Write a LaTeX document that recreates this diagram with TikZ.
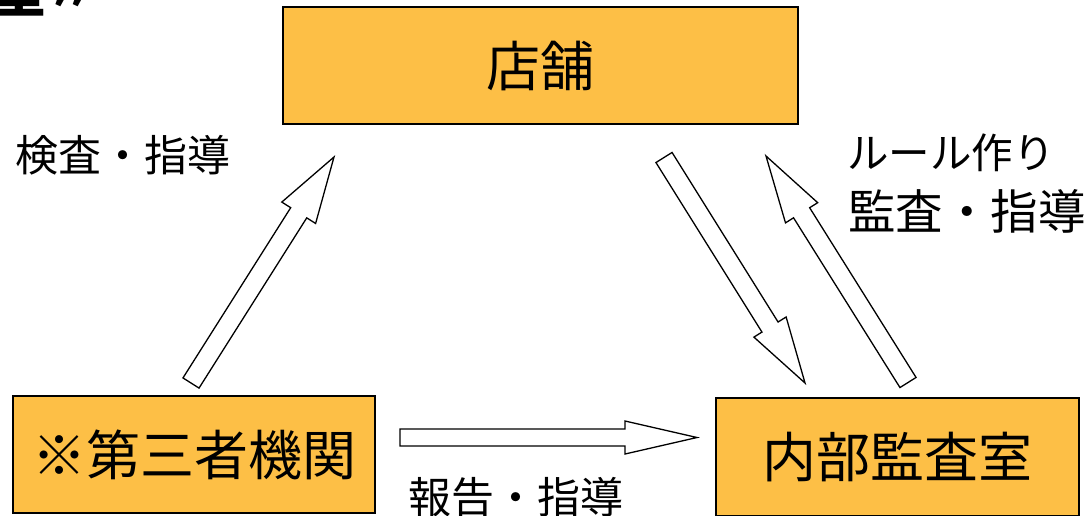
\documentclass[tikz,border=0pt]{standalone}
\usepackage{fontspec}
\setmainfont{Noto Sans CJK JP}
\usetikzlibrary{calc}
\definecolor{boxfill}{RGB}{253,191,70}
\tikzset{
  box/.style={draw=black, line width=1.6pt, fill=boxfill, inner sep=0pt, font=\fontsize{54}{54}\selectfont},
  lbl/.style={inner sep=0pt, font=\fontsize{43}{43}\selectfont},
  blockarrow/.style={draw=black, line width=1.3pt, fill=white, line join=miter}
}
\newcommand{\blockarr}[5]{% start, end, half shaft, half head, head length
  \draw[blockarrow]
    ($(#1)!#3!90:(#2)$) --
    ($($(#2)!#5!(#1)$)!#3!90:(#2)$) --
    ($($(#2)!#5!(#1)$)!#4!90:(#2)$) --
    (#2) --
    ($($(#2)!#5!(#1)$)!#4!-90:(#2)$) --
    ($($(#2)!#5!(#1)$)!#3!-90:(#2)$) --
    ($(#1)!#3!-90:(#2)$) -- cycle;}
\begin{document}
\begin{tikzpicture}[x=1pt,y=-1pt]
\useasboundingbox (0,0) rectangle (1091,515);
\begin{scope}
\clip (0,0) rectangle (1091,515);
\node[anchor=base west, inner sep=0pt, font=\fontsize{54}{54}\selectfont\bfseries] (title) at (-8,12) {室〃};
\node[box, minimum width=515pt, minimum height=117pt] (shop) at (540.5,65.5) {店舗};
\node[box, minimum width=362pt, minimum height=117pt] (third) at (194,454.5) {※第三者機関};
\node[box, minimum width=363pt, minimum height=118pt] (audit) at (897.5,457) {内部監査室};
\end{scope}

\node[lbl] (l1) at (123,155) {検査・指導};
\node[lbl, font=\fontsize{41.5}{41.5}\selectfont] (l2) at (951,153) {ルール作り};
\node[lbl, font=\fontsize{47.5}{47.5}\selectfont] (l3) at (967,211) {監査・指導};
\node[lbl] (l4) at (516,497) {報告・指導};

\coordinate (a1s) at (191,383);
\coordinate (a1e) at (334,157);
\coordinate (a2s) at (664,157.5);
\coordinate (a2e) at (805,383);
\coordinate (a3s) at (908,382.5);
\coordinate (a3e) at (766,156);
\coordinate (a4s) at (400,437.5);
\coordinate (a4e) at (697,437.5);

\blockarr{a1s}{a1e}{9.5pt}{20pt}{66pt}
\blockarr{a2s}{a2e}{9.5pt}{19pt}{66pt}
\blockarr{a3s}{a3e}{9.5pt}{19pt}{67pt}
\blockarr{a4s}{a4e}{8.5pt}{16.5pt}{72pt}
\end{tikzpicture}
\end{document}
